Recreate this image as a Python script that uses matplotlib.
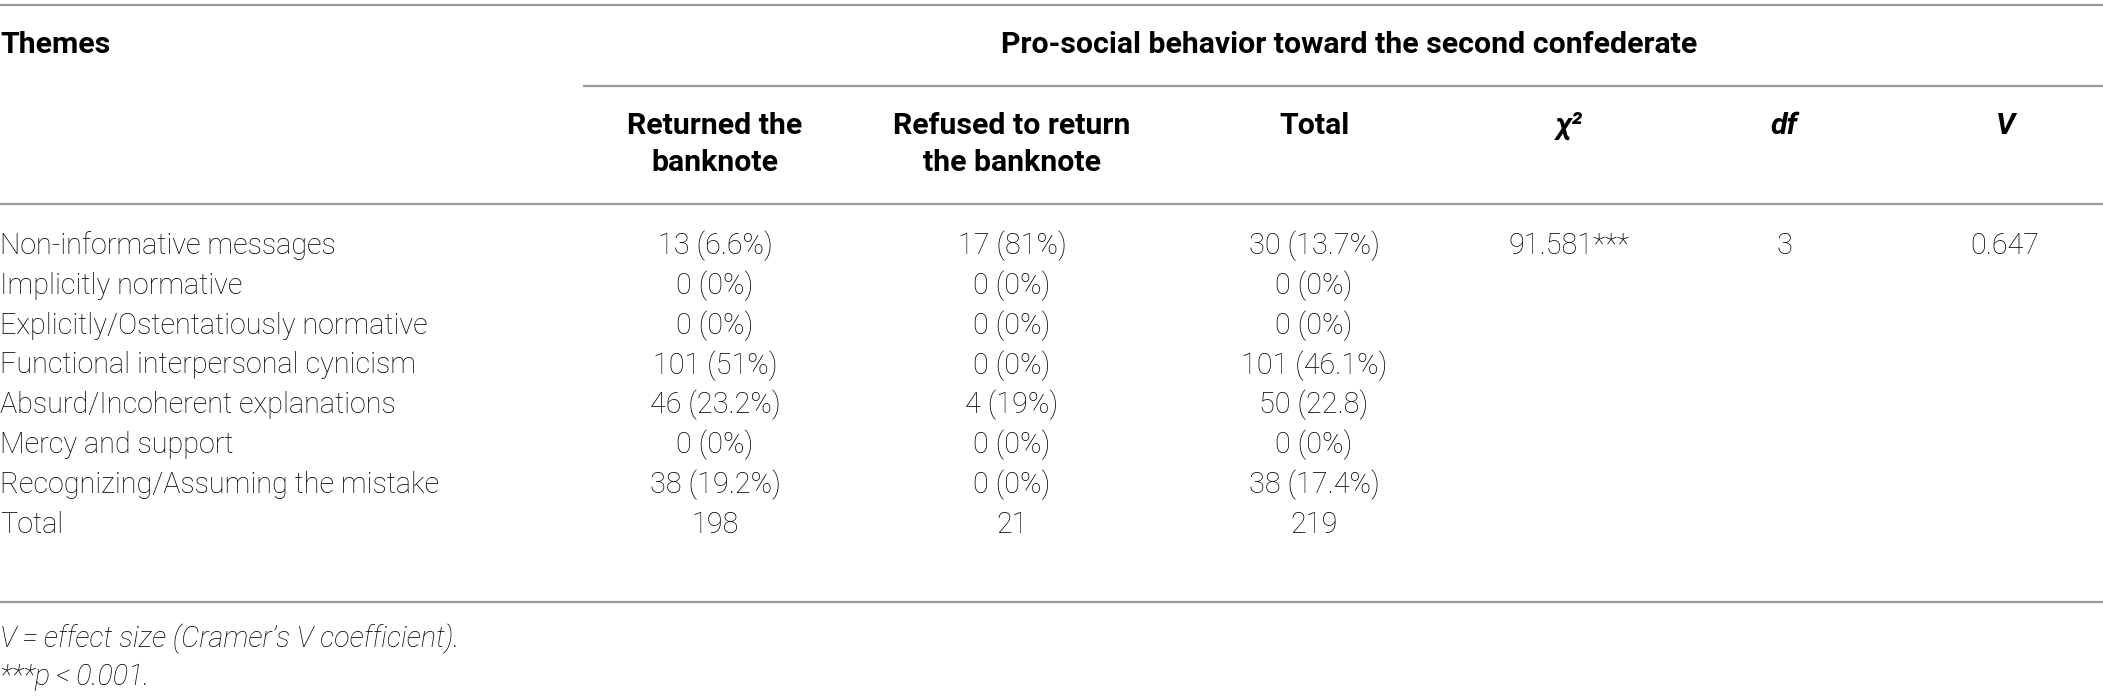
import matplotlib
matplotlib.use("Agg")
import matplotlib.pyplot as plt

# table content
themes = [
    "Non-informative messages",
    "Implicitly normative",
    "Explicitly/Ostentatiously normative",
    "Functional interpersonal cynicism",
    "Absurd/Incoherent explanations",
    "Mercy and support",
    "Recognizing/Assuming the mistake",
    "Total",
]
returned = ["13 (6.6%)", "0 (0%)", "0 (0%)", "101 (51%)", "46 (23.2%)", "0 (0%)", "38 (19.2%)", "198"]
refused = ["17 (81%)", "0 (0%)", "0 (0%)", "0 (0%)", "4 (19%)", "0 (0%)", "0 (0%)", "21"]
total = ["30 (13.7%)", "0 (0%)", "0 (0%)", "101 (46.1%)", "50 (22.8)", "0 (0%)", "38 (17.4%)", "219"]
chi2 = ["91.581***"]
dfree = ["3"]
cramer_v = ["0.647"]

col_heads = ["Returned the\nbanknote", "Refused to return\nthe banknote", "Total"]
stat_heads = ["\u03c7\u00b2", "df", "V"]
group_head = "Pro-social behavior toward the second confederate"
notes = ["V\u2009=\u2009effect size (Cramer\u2019s V coefficient).", "***p\u2009<\u20090.001."]

W, H = 2103, 698
FAM = ["Roboto", "DejaVu Sans"]
LINE = "#9a9a9a"
FS = 20.7   # body
FSH = 21.8  # headers
FSN = 20.7  # footnotes

fig = plt.figure(figsize=(W / 100, H / 100), dpi=100)
ax = fig.add_axes([0, 0, 1, 1])
ax.set_xlim(0, W)
ax.set_ylim(H, 0)
ax.axis("off")

col_x = [715, 1012, 1314, 1569, 1784, 2005]
row_y0, row_dy = 246, 39.8

# rules
for y, x0 in [(5, 0), (86, 583), (204, 0), (602, 0)]:
    ax.plot([x0, W], [y, y], color=LINE, lw=1.6, solid_capstyle="butt")

# headers
ax.text(0, 45, "Themes", fontsize=FSH, fontweight="bold", family=FAM, va="center", ha="left")
ax.text(1349, 45, group_head, fontsize=FSH, fontweight="bold", family=FAM, va="center", ha="center")
for x, h in zip(col_x[:3], col_heads):
    ax.text(x, 112, h, fontsize=FSH, fontweight="bold", family=FAM, va="top", ha="center",
            linespacing=1.4)
for x, h in zip(col_x[3:], stat_heads):
    ax.text(x, 112, h, fontsize=FSH, fontweight="bold", fontstyle="italic", family=FAM,
            va="top", ha="center")

# body
for i, name in enumerate(themes):
    y = row_y0 + i * row_dy
    ax.text(0, y, name, fontsize=FS, fontweight="light", family=FAM, va="center", ha="left")
    for x, col in zip(col_x[:3], [returned, refused, total]):
        ax.text(x, y, col[i], fontsize=FS, fontweight="light", family=FAM, va="center", ha="center")
for x, col in zip(col_x[3:], [chi2, dfree, cramer_v]):
    ax.text(x, row_y0, col[0], fontsize=FS, fontweight="light", family=FAM, va="center", ha="center")

# footnotes
for j, note in enumerate(notes):
    ax.text(0, 639 + j * 38, note, fontsize=FSN, fontweight="light", fontstyle="italic",
            family=FAM, va="center", ha="left")

fig.savefig("out.png", dpi=100)
